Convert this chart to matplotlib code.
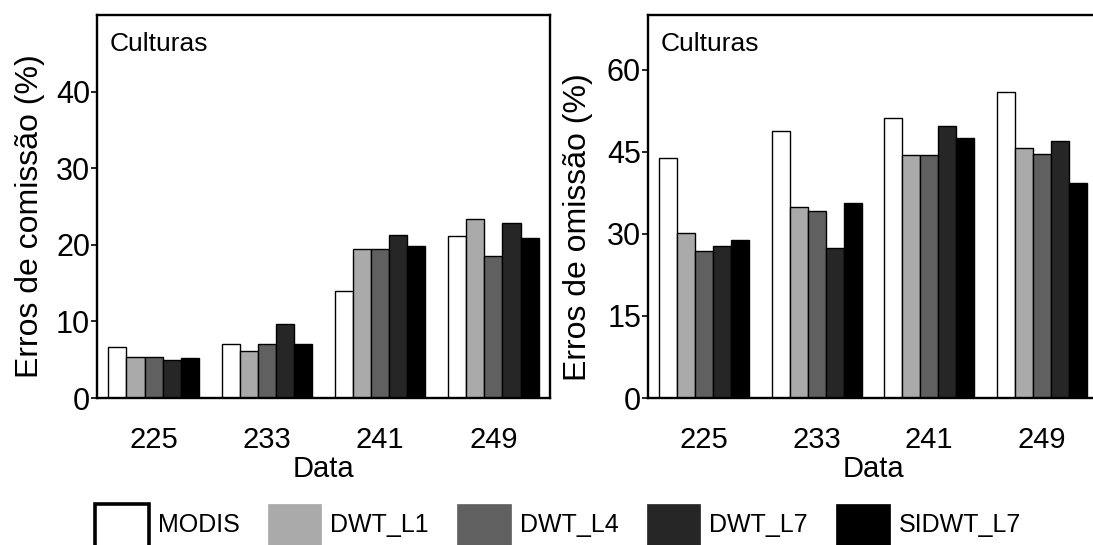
import matplotlib
matplotlib.use("Agg")
import matplotlib.pyplot as plt
import numpy as np
from matplotlib.patches import Patch, Rectangle
from matplotlib.legend_handler import HandlerPatch

plt.rcParams['font.family'] = ['Liberation Sans', 'DejaVu Sans']

dates = ['225', '233', '241', '249']
series = ['MODIS', 'DWT_L1', 'DWT_L4', 'DWT_L7', 'SIDWT_L7']
colors = ['#ffffff', '#aaaaaa', '#606060', '#262626', '#000000']

commission = {
    'MODIS':    [6.6, 7.1, 14.0, 21.2],
    'DWT_L1':   [5.4, 6.2, 19.5, 23.4],
    'DWT_L4':   [5.3, 7.0, 19.5, 18.6],
    'DWT_L7':   [4.9, 9.7, 21.3, 22.8],
    'SIDWT_L7': [5.2, 7.0, 19.8, 20.9],
}
omission = {
    'MODIS':    [43.9, 48.8, 51.1, 56.0],
    'DWT_L1':   [30.2, 34.9, 44.4, 45.7],
    'DWT_L4':   [26.9, 34.2, 44.4, 44.6],
    'DWT_L7':   [27.7, 27.5, 49.8, 47.0],
    'SIDWT_L7': [28.8, 35.6, 47.6, 39.3],
}

W, H = 1093, 545
fig = plt.figure(figsize=(W / 100, H / 100), dpi=100)
bot = 1 - 398 / H
hgt = (398 - 15) / H
ax1 = fig.add_axes([97 / W, bot, 453 / W, hgt])
ax2 = fig.add_axes([648 / W, bot, 450 / W, hgt])

x = np.arange(len(dates))
bw = 0.8 / len(series)

def draw(ax, data, ylim, yticks, ylabel, label_xy):
    for i, s in enumerate(series):
        ax.bar(x - 0.4 + bw * (i + 0.5), data[s], width=bw, color=colors[i],
               edgecolor='black', linewidth=1.0)
    ax.set_xlim(-0.5, 3.5)
    ax.set_ylim(*ylim)
    ax.set_yticks(yticks)
    ax.set_xticks(x)
    ax.set_xticklabels(dates)
    ax.tick_params(axis='x', length=0, pad=20, labelsize=21)
    ax.tick_params(axis='y', length=4, width=1.2, pad=1, labelsize=22, direction='out')
    for sp in ax.spines.values():
        sp.set_linewidth(1.7)
    ax.set_ylabel(ylabel, fontsize=23)
    ax.yaxis.set_label_coords(*label_xy)
    ax.set_xlabel('Data', fontsize=21, labelpad=1)
    ax.text(0.028, 0.925, 'Culturas', transform=ax.transAxes, fontsize=19,
            va='center', ha='left')

draw(ax1, commission, (0, 50), [0, 10, 20, 30, 40], 'Erros de comissão (%)', (-0.115, 0.475))
draw(ax2, omission, (0, 70), [0, 15, 30, 45, 60], 'Erros de omissão (%)', (-0.122, 0.445))


def tall_patch(legend, orig_handle, xdescent, ydescent, width, height, fontsize):
    # square patch that continues below the figure edge, as in the reference
    return Rectangle((-xdescent, -ydescent - 0.6 * height), width, 1.6 * height)


handles = [Patch(facecolor=colors[i], edgecolor='black' if i == 0 else colors[i],
                 linewidth=2.6 if i == 0 else 0.5, label=s)
           for i, s in enumerate(series)]
fig.legend(handles=handles, loc='upper left', bbox_to_anchor=(95 / W, 1 - 504 / H),
           ncol=5, frameon=False, fontsize=18, handlelength=2.15, handleheight=2.15,
           handletextpad=0.35, columnspacing=1.13, borderaxespad=0, borderpad=0,
           handler_map={Patch: HandlerPatch(patch_func=tall_patch)})

fig.savefig('out.png', dpi=100)
